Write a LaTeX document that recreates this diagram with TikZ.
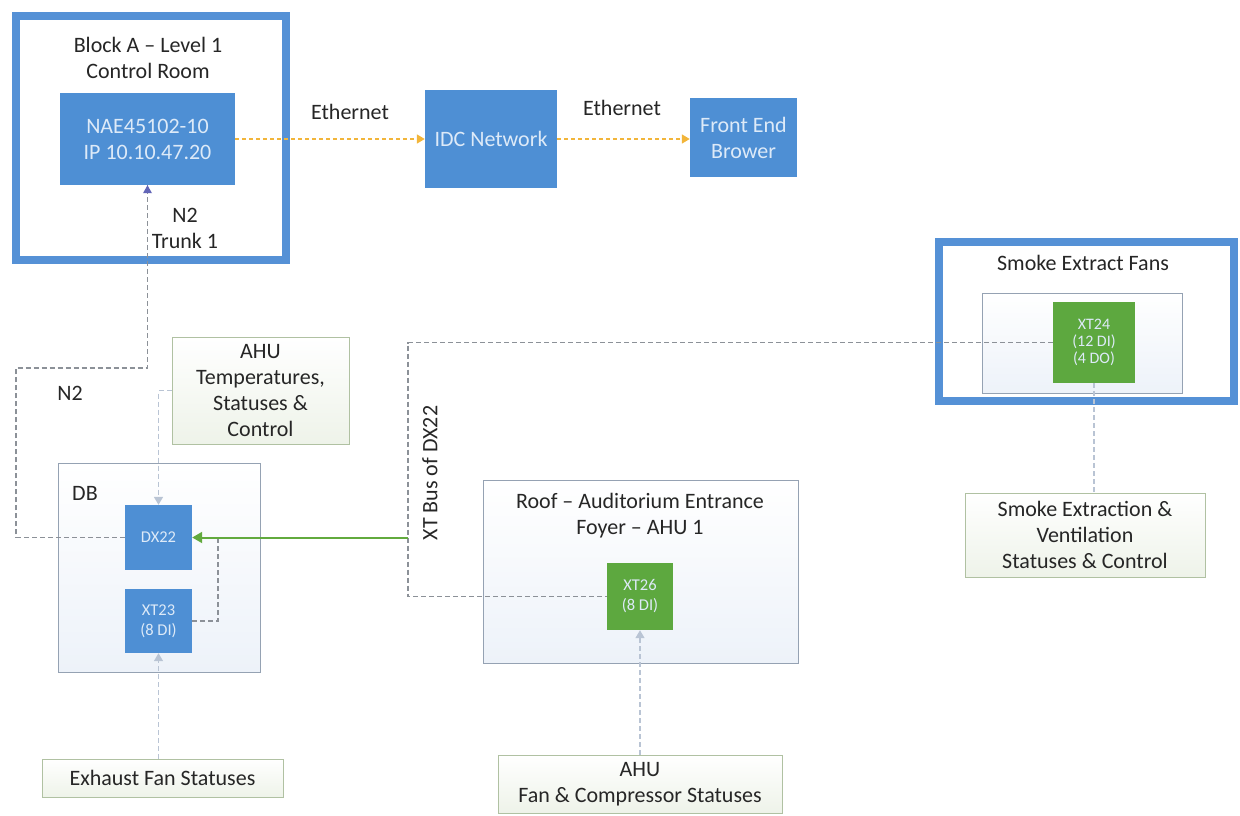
\documentclass[tikz,border=0pt]{standalone}
\usepackage{fontspec}
\setmainfont{Carlito}
\usetikzlibrary{arrows.meta}
\definecolor{boxblue}{HTML}{4E8FD4}
\definecolor{frameblue}{HTML}{5591D6}
\definecolor{xtgreen}{HTML}{5DA83F}
\definecolor{boxtext}{HTML}{DDEAF8}
\definecolor{ethorange}{HTML}{F2B53A}
\definecolor{bordgray}{HTML}{95A2B3}
\definecolor{contfill}{HTML}{EDF2F9}
\definecolor{lblborder}{HTML}{B0C1A2}
\definecolor{lblfill}{HTML}{EEF3E9}
\definecolor{lnkgray}{HTML}{8C9198}
\definecolor{lnklight}{HTML}{B9C4D4}
\definecolor{busgreen}{HTML}{62AA3E}
\definecolor{txt}{HTML}{262626}
\begin{document}
\begin{tikzpicture}[x=1pt,y=-1pt,
  big/.style={font=\fontsize{22}{26}\selectfont},
  mid/.style={font=\fontsize{16.5}{20}\selectfont},
  small/.style={font=\fontsize{16}{17}\selectfont},
  frame/.style={draw=frameblue, line width=8pt, fill=white, inner sep=0pt},
  bluebox/.style={fill=boxblue, text=boxtext, align=center, inner sep=0pt},
  greenbox/.style={fill=xtgreen, text=boxtext, align=center, inner sep=0pt},
  cont/.style={draw=bordgray, line width=1pt, top color=white, bottom color=contfill, inner sep=0pt},
  lblbox/.style={draw=lblborder, line width=1pt, top color=white, bottom color=lblfill, align=center, inner sep=0pt, text=txt, big},
  lbl/.style={text=txt, align=center, big, inner sep=0pt},
  eth/.style={draw=ethorange, line width=1.5pt, dash pattern=on 4pt off 3pt, -{Triangle[width=9pt,length=8pt]}},
  lnk/.style={draw=lnkgray, line width=1.5pt, dash pattern=on 5pt off 3pt},
  lnklt/.style={draw=lnklight, line width=1.5pt, dash pattern=on 5pt off 3pt},
  tip/.style={-{Triangle[width=9pt,length=8pt]}},
]
\useasboundingbox (0,0) rectangle (1240,815);

% containers
\node[frame, minimum width=270pt, minimum height=244pt] (blockA) at (151,138) {};
\node[lbl] (blockAt) at (148,57.5) {Block A – Level 1\\Control Room};
\node[frame, minimum width=295pt, minimum height=159pt] (smokeF) at (1086.5,321.5) {};
\node[lbl] (smokeFt) at (1083,263) {Smoke Extract Fans};
\node[cont, minimum width=200pt, minimum height=100pt] (smokeIn) at (1082,343) {};
\node[cont, minimum width=202pt, minimum height=209pt] (db) at (159,567.5) {};
\node[lbl] (dbt) at (85,493) {DB};
\node[cont, minimum width=315pt, minimum height=183pt] (roof) at (640.5,571.5) {};
\node[lbl] (rooft) at (640,516) {Roof – Auditorium Entrance\\Foyer – AHU 1};

% devices
\node[bluebox, big, minimum width=175pt, minimum height=92pt] (nae) at (147.5,139) {NAE45102-10\\IP 10.10.47.20};
\node[bluebox, big, minimum width=132pt, minimum height=98pt] (idc) at (491,139) {IDC Network};
\node[bluebox, big, minimum width=107pt, minimum height=79pt] (feb) at (743.5,137.5) {Front End\\Brower};
\node[bluebox, mid, minimum width=67pt, minimum height=65pt] (dx22) at (158.5,537.5) {DX22};
\node[bluebox, mid, minimum width=67pt, minimum height=64pt] (xt23) at (158.5,621) {XT23\\(8 DI)};
\node[greenbox, small, minimum width=82pt, minimum height=81pt] (xt24) at (1094,342.5) {XT24\\(12 DI)\\(4 DO)};
\node[greenbox, mid, minimum width=66pt, minimum height=67pt] (xt26) at (640,596.5) {XT26\\(8 DI)};

% label boxes
\node[lblbox, minimum width=177pt, minimum height=107pt] (ahut) at (260.5,390.5) {AHU\\Temperatures,\\Statuses \&\\Control};
\node[lblbox, minimum width=240pt, minimum height=84pt] (smk) at (1085,535) {Smoke Extraction \&\\Ventilation\\Statuses \& Control};
\node[lblbox, minimum width=241pt, minimum height=38pt] (exh) at (162.5,778) {Exhaust Fan Statuses};
\node[lblbox, minimum width=284pt, minimum height=58pt] (ahuf) at (640,784) {AHU\\Fan \& Compressor Statuses};

% text labels
\node[lbl] (eth1) at (350,112) {Ethernet};
\node[lbl] (eth2) at (622,108) {Ethernet};
\node[lbl] (n2t) at (185,228) {N2\\Trunk 1};
\node[lbl] (n2) at (70,393) {N2};
\node[lbl, rotate=90] (busl) at (430,473) {XT Bus of DX22};

% connectors
\draw[eth] (nae.east) -- (idc.west);
\draw[eth] (idc.east) -- (feb.west |- idc.east);

\coordinate (n2b) at (16,368);
\draw[lnk] (dx22.west) -| (n2b) -| (nae.south);
\draw[draw=none, fill=lnkgray!70!blue] (nae.south) -- ++(-4.5,8) -- ++(9,0) -- cycle;

\coordinate (busx) at (408,0);
\draw[lnk] (xt24.west) -| (busx |- xt26.west) -- (xt26.west);
\coordinate (x23) at (218,0);
\draw[lnk] (xt23.east) -| (x23 |- dx22.east);
\draw[busgreen, line width=2pt, -{Triangle[width=11pt,length=10pt]}] (busx |- dx22.east) -- (dx22.east);

\draw[lnklt, tip] (ahut.west) -| (dx22.north);
\draw[lnklt, tip] (xt23.south |- exh.north) -- (xt23.south);
\draw[lnklt, tip] (xt26.south |- ahuf.north) -- (xt26.south);
\draw[lnklt] (xt24.south) -- (xt24.south |- smk.north);
\end{tikzpicture}
\end{document}
